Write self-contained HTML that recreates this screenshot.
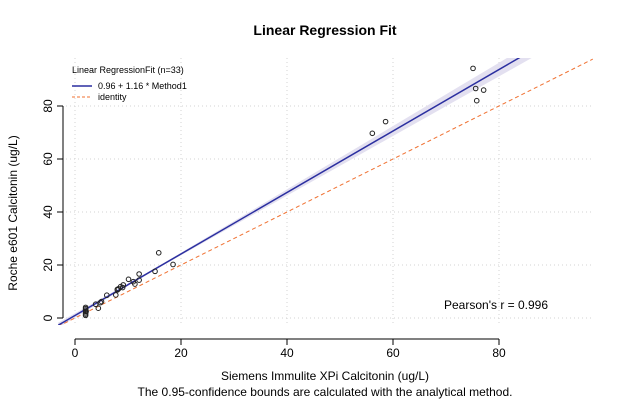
<!DOCTYPE html>
<html><head><meta charset="utf-8"><style>
body{margin:0;background:#fff;font-family:"Liberation Sans",sans-serif}
</style></head><body>
<svg id="c" width="623" height="400" xmlns="http://www.w3.org/2000/svg" font-family="Liberation Sans, sans-serif"></svg>
<script>
const xs=[2,2,2,2,2,2,3.9,4.4,4.8,5.0,6.0,7.7,8.0,8.2,8.6,9.1,10.1,11,11.3,12.1,12.1,15.1,15.8,18.5,56.1,58.6,75.1,75.6,77.1,75.8,8.0,9.0,2.1];
const ys=[1,2,3,4,1.5,3.5,5.2,3.7,5.8,6.2,8.6,8.7,10.6,11,11.8,12.5,14.6,13.7,12.8,14.3,16.6,17.6,24.6,20.2,69.7,74.1,94.2,86.6,86,82,10.8,11.5,2.5];
const xTicks=[0,20,40,60,80];
const yTicks=[0,20,40,60,80];
const coef=[0.96,1.16];
const NS="http://www.w3.org/2000/svg";
const svg=document.getElementById('c');
const X=v=>75+v*5.3, Y=v=>318-v*2.65;
const x0=-3.2,x1=97.7,yTop=58,yBot=325;
function el(t,a,txt){const e=document.createElementNS(NS,t);for(const k in a)e.setAttribute(k,a[k]);if(txt!=null)e.textContent=txt;svg.appendChild(e);return e;}
// grid
xTicks.forEach(t=>{const g=el('line',{x1:X(t),x2:X(t),y1:yTop,y2:yBot,stroke:'#d3d3d3','stroke-dasharray':'1,3'});

});
yTicks.forEach(t=>{const g=el('line',{x1:58,x2:593,y1:Y(t),y2:Y(t),stroke:'#d3d3d3','stroke-dasharray':'1,3'});

});
// confidence band
const band=[];for(let i=0;i<=20;i++){const v=x0+(x1-x0)*i/20;const w=0.3+Math.abs(v-15)*0.035;band.push([v,coef[0]+coef[1]*v+w]);}
for(let i=20;i>=0;i--){const v=x0+(x1-x0)*i/20;const w=0.3+Math.abs(v-15)*0.035;band.push([v,coef[0]+coef[1]*v-w]);}
const cp=document.createElementNS(NS,'clipPath');cp.id='pc';const cr=document.createElementNS(NS,'rect');
cr.setAttribute('x',58);cr.setAttribute('y',yTop);cr.setAttribute('width',535);cr.setAttribute('height',yBot-yTop);cp.appendChild(cr);svg.appendChild(cp);
const b=el('polygon',{points:band.map(p=>X(p[0])+','+Y(p[1])).join(' '),fill:'#e3e0f0','clip-path':'url(#pc)'});


// identity
const id=el('line',{x1:X(x0),y1:Y(x0),x2:X(x1),y2:Y(x1),stroke:'#f07030','stroke-dasharray':'4,3','stroke-width':1,'clip-path':'url(#pc)'});


// regression
const rl=el('line',{x1:X(x0),y1:Y(coef[0]+coef[1]*x0),x2:X(x1),y2:Y(coef[0]+coef[1]*x1),stroke:'#2b2fa0','stroke-width':1.5,'clip-path':'url(#pc)'});


// points
xs.forEach((v,i)=>{const p=el('circle',{cx:X(v),cy:Y(ys[i]),r:2.3,fill:'none',stroke:'#222','stroke-width':1});

});
// axes
el('line',{x1:X(0),x2:X(80),y1:339,y2:339,stroke:'#000',});
el('line',{x1:63,x2:63,y1:Y(0),y2:Y(80),stroke:'#000',});
xTicks.forEach(t=>{el('line',{x1:X(t),x2:X(t),y1:339,y2:345,stroke:'#000'});
const l=el('text',{x:X(t),y:357,'font-size':12,'text-anchor':'middle'},t);

});
yTicks.forEach(t=>{el('line',{x1:57,x2:63,y1:Y(t),y2:Y(t),stroke:'#000'});
const l=el('text',{x:0,y:0,'font-size':12,'text-anchor':'middle',transform:`translate(52,${Y(t)}) rotate(-90)`},t);

});
</script>
<svg style="position:absolute;left:0;top:0" width="623" height="400" font-family="Liberation Sans, sans-serif">
<text x="325" y="35" font-size="14" font-weight="bold" text-anchor="middle">Linear Regression Fit</text>
<text x="325" y="380" font-size="12" text-anchor="middle">Siemens Immulite XPi  Calcitonin (ug/L)</text>
<text x="325" y="396" font-size="12" text-anchor="middle">The 0.95-confidence bounds are calculated with the analytical method.</text>
<text transform="translate(17,213) rotate(-90)" font-size="12" text-anchor="middle">Roche e601 Calcitonin (ug/L)</text>
<text x="444" y="309" font-size="12">Pearson's r = 0.996</text>
<g font-size="9">
<text x="72" y="73">Linear RegressionFit (n=33)</text>
<line x1="72" x2="92" y1="86" y2="86" stroke="#2b2fa0" stroke-width="1.5"/>
<text x="98" y="89">0.96 + 1.16 * Method1</text>
<line x1="72" x2="92" y1="97" y2="97" stroke="#f07030" stroke-dasharray="3,2"/>
<text x="98" y="100">identity</text>
</g>
</svg>
</body></html>
